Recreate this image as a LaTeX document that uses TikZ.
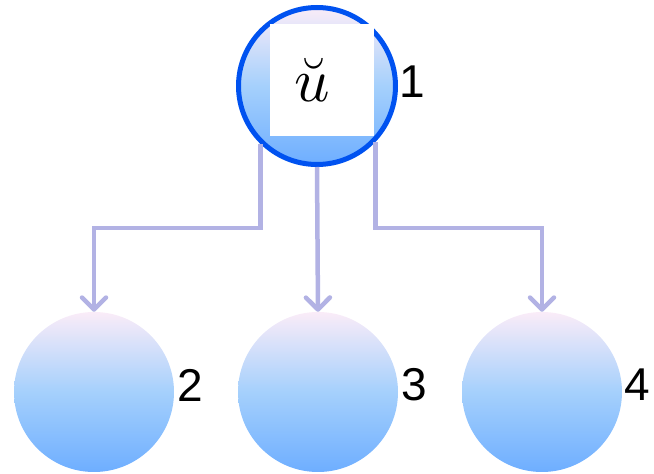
\documentclass[tikz,border=0pt]{standalone}
\usepackage{fontspec}
\usepackage{graphicx}
\setmainfont{Liberation Sans}
\usetikzlibrary{arrows.meta}
\definecolor{ballTop}{RGB}{250,236,248}
\definecolor{ballMid}{RGB}{165,208,252}
\definecolor{ballBot}{RGB}{110,174,255}
\definecolor{rimBlue}{RGB}{0,82,240}
\definecolor{linkLav}{RGB}{178,178,228}
\begin{document}
\begin{tikzpicture}[x=1pt,y=1pt,
		ball/.style={circle,inner sep=0pt,minimum size=160pt,top color=ballTop,bottom color=ballBot,middle color=ballMid},
		num/.style={font=\fontsize{46}{46}\selectfont,inner sep=0pt},
		link/.style={draw=linkLav,line width=4.5pt,-{Straight Barb[length=12pt,width=24pt,round]}}]
		\useasboundingbox (0,0) rectangle (654,474);
		\node[ball,draw=rimBlue,line width=5pt,minimum size=157pt] (n1) at (317,388) {};
		\node[fill=white,minimum width=104pt,minimum height=112pt,inner sep=0pt] (ubox) at (322,394) {\scalebox{6.2}{$\breve{u}$}\rule{20pt}{0pt}};
		\node[ball] (n2) at (94,82) {};
		\node[ball] (n3) at (318,82) {};
		\node[ball] (n4) at (542,82) {};
		\node[num] (l1) at (412,392) {1};
		\node[num] (l2) at (190,89) {2};
		\node[num] (l3) at (414,89) {3};
		\node[num] (l4) at (637,89) {4};
		\coordinate (fork) at (318,246);
		\draw[link] (n1.226) |- (fork -| n2.north) -- (n2.north);
		\draw[link] (n1.south) -- (n3.north);
		\draw[link] (n1.316) |- (fork -| n4.north) -- (n4.north);
	\end{tikzpicture}
\end{document}
